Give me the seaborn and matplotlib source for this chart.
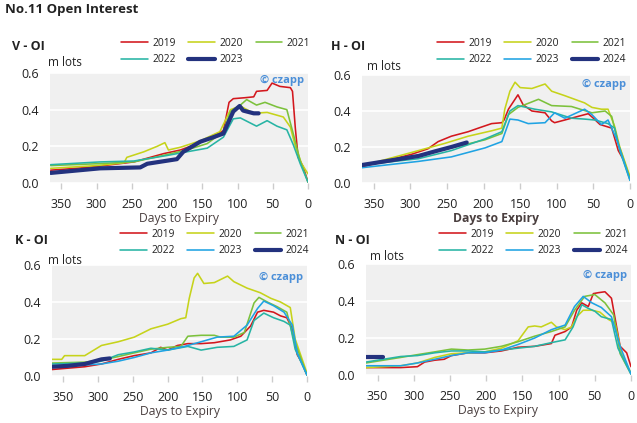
import matplotlib
matplotlib.use("Agg")
import matplotlib.pyplot as plt
import seaborn as sns
import pandas as pd

# ---------------- data (million lots vs days to expiry) ----------------
V_2019_days = [365, 330, 300, 247, 205, 181, 153, 134, 120, 112, 106, 90, 77, 73, 58, 51, 40, 25, 22, 18, 14, 7, 0]
V_2019_oi = [0.07, 0.08, 0.09, 0.115, 0.16, 0.18, 0.22, 0.26, 0.285, 0.44, 0.46, 0.465, 0.47, 0.50, 0.505, 0.545, 0.527, 0.52, 0.50, 0.30, 0.14, 0.09, 0.005]
V_2020_days = [365, 300, 261, 257, 233, 214, 203, 198, 181, 153, 125, 110, 96, 77, 58, 35, 25, 18, 9, 0]
V_2020_oi = [0.08, 0.095, 0.11, 0.14, 0.17, 0.20, 0.22, 0.18, 0.195, 0.23, 0.28, 0.40, 0.42, 0.38, 0.385, 0.36, 0.305, 0.20, 0.105, 0.05]
V_2021_days = [365, 300, 247, 200, 172, 143, 120, 110, 96, 87, 73, 61, 44, 30, 21, 11, 0]
V_2021_oi = [0.095, 0.105, 0.115, 0.155, 0.18, 0.215, 0.28, 0.39, 0.425, 0.455, 0.425, 0.44, 0.415, 0.40, 0.27, 0.12, 0.005]
V_2022_days = [365, 295, 247, 200, 172, 143, 120, 106, 96, 73, 58, 44, 30, 21, 11, 0]
V_2022_oi = [0.10, 0.115, 0.12, 0.15, 0.17, 0.19, 0.25, 0.35, 0.355, 0.31, 0.34, 0.31, 0.29, 0.21, 0.105, 0.005]
V_2023_days = [365, 295, 238, 228, 186, 177, 153, 134, 120, 106, 97, 92, 77, 70]
V_2023_oi = [0.055, 0.08, 0.085, 0.105, 0.13, 0.17, 0.225, 0.25, 0.27, 0.39, 0.42, 0.395, 0.38, 0.38]

H_2019_days = [366, 298, 276, 262, 244, 221, 207, 189, 175, 172, 166, 153, 146, 134, 116, 107, 103, 89, 71, 57, 50, 41, 25, 16, 9, 0]
H_2019_oi = [0.09, 0.16, 0.19, 0.23, 0.26, 0.285, 0.305, 0.33, 0.335, 0.35, 0.41, 0.49, 0.435, 0.40, 0.39, 0.345, 0.335, 0.35, 0.37, 0.385, 0.36, 0.325, 0.305, 0.18, 0.13, 0.025]
H_2020_days = [366, 298, 253, 221, 189, 175, 171, 164, 157, 150, 134, 116, 107, 89, 62, 52, 39, 30, 21, 14, 0]
H_2020_oi = [0.095, 0.17, 0.22, 0.26, 0.29, 0.305, 0.41, 0.51, 0.56, 0.53, 0.525, 0.55, 0.51, 0.485, 0.445, 0.42, 0.41, 0.41, 0.315, 0.20, 0.035]
H_2021_days = [366, 289, 244, 198, 175, 166, 153, 125, 107, 80, 52, 34, 25, 16, 0]
H_2021_oi = [0.10, 0.155, 0.195, 0.24, 0.275, 0.38, 0.42, 0.465, 0.43, 0.425, 0.39, 0.40, 0.37, 0.22, 0.025]
H_2022_days = [366, 289, 244, 198, 175, 164, 153, 130, 107, 80, 62, 48, 30, 21, 14, 0]
H_2022_oi = [0.10, 0.135, 0.18, 0.245, 0.285, 0.40, 0.43, 0.41, 0.395, 0.36, 0.355, 0.35, 0.33, 0.305, 0.18, 0.015]
H_2023_days = [366, 289, 244, 198, 175, 164, 153, 139, 116, 103, 89, 62, 52, 39, 30, 18, 0]
H_2023_oi = [0.085, 0.12, 0.145, 0.195, 0.23, 0.355, 0.35, 0.33, 0.335, 0.39, 0.36, 0.41, 0.38, 0.325, 0.35, 0.24, 0.015]
H_2024_days = [366, 289, 267, 244, 223]
H_2024_oi = [0.10, 0.15, 0.175, 0.20, 0.225]

K_2019_days = [366, 319, 295, 271, 248, 224, 210, 200, 186, 171, 152, 133, 110, 95, 81, 71, 62, 48, 38, 29, 21, 14, 7, 0]
K_2019_oi = [0.035, 0.05, 0.065, 0.09, 0.11, 0.125, 0.155, 0.14, 0.165, 0.175, 0.175, 0.18, 0.195, 0.215, 0.27, 0.345, 0.355, 0.345, 0.325, 0.315, 0.255, 0.115, 0.07, 0.005]
K_2020_days = [366, 352, 348, 319, 295, 271, 248, 224, 200, 181, 174, 169, 162, 157, 148, 133, 114, 105, 86, 67, 52, 38, 24, 17, 0]
K_2020_oi = [0.09, 0.09, 0.11, 0.11, 0.165, 0.185, 0.21, 0.255, 0.28, 0.31, 0.315, 0.42, 0.53, 0.555, 0.50, 0.505, 0.54, 0.51, 0.475, 0.45, 0.42, 0.40, 0.37, 0.20, 0.015]
K_2021_days = [366, 319, 295, 271, 248, 224, 200, 181, 171, 152, 133, 124, 105, 90, 76, 69, 57, 43, 29, 19, 0]
K_2021_oi = [0.07, 0.075, 0.085, 0.105, 0.125, 0.145, 0.155, 0.16, 0.215, 0.22, 0.22, 0.21, 0.21, 0.235, 0.395, 0.425, 0.40, 0.375, 0.345, 0.20, 0.005]
K_2022_days = [366, 319, 295, 271, 248, 224, 200, 171, 152, 129, 105, 86, 76, 62, 48, 33, 24, 17, 0]
K_2022_oi = [0.065, 0.07, 0.08, 0.115, 0.13, 0.15, 0.14, 0.16, 0.14, 0.155, 0.16, 0.195, 0.30, 0.34, 0.315, 0.295, 0.275, 0.145, 0.005]
K_2023_days = [366, 319, 295, 271, 248, 224, 200, 176, 152, 129, 105, 86, 71, 62, 48, 33, 21, 14, 0]
K_2023_oi = [0.055, 0.06, 0.065, 0.08, 0.10, 0.125, 0.14, 0.16, 0.185, 0.21, 0.215, 0.275, 0.365, 0.405, 0.38, 0.345, 0.275, 0.125, 0.005]
K_2024_days = [366, 343, 319, 295, 283]
K_2024_oi = [0.05, 0.055, 0.065, 0.09, 0.095]

N_2019_days = [366, 318, 295, 285, 271, 258, 248, 225, 202, 179, 156, 133, 110, 105, 91, 82, 75, 68, 59, 52, 45, 36, 27, 15, 6, 0]
N_2019_oi = [0.04, 0.04, 0.045, 0.07, 0.08, 0.085, 0.105, 0.12, 0.12, 0.13, 0.15, 0.155, 0.17, 0.215, 0.235, 0.26, 0.35, 0.39, 0.37, 0.44, 0.445, 0.45, 0.415, 0.155, 0.12, 0.045]
N_2020_days = [366, 318, 295, 271, 248, 225, 202, 179, 156, 142, 133, 124, 110, 103, 91, 82, 75, 66, 54, 43, 31, 22, 13, 0]
N_2020_oi = [0.04, 0.05, 0.065, 0.095, 0.115, 0.12, 0.125, 0.145, 0.185, 0.26, 0.265, 0.26, 0.285, 0.26, 0.245, 0.26, 0.315, 0.35, 0.35, 0.34, 0.30, 0.28, 0.115, 0.01]
N_2021_days = [366, 318, 295, 271, 248, 225, 202, 179, 156, 133, 110, 91, 78, 64, 50, 36, 24, 15, 0]
N_2021_oi = [0.065, 0.095, 0.11, 0.125, 0.14, 0.135, 0.14, 0.155, 0.18, 0.21, 0.235, 0.26, 0.35, 0.425, 0.435, 0.39, 0.325, 0.115, 0.005]
N_2022_days = [366, 318, 295, 271, 248, 225, 202, 179, 156, 133, 110, 91, 80, 68, 59, 50, 41, 27, 18, 0]
N_2022_oi = [0.07, 0.10, 0.105, 0.12, 0.13, 0.13, 0.125, 0.135, 0.145, 0.155, 0.175, 0.19, 0.26, 0.38, 0.36, 0.345, 0.315, 0.30, 0.145, 0.005]
N_2023_days = [366, 318, 295, 271, 248, 225, 202, 179, 156, 133, 110, 91, 78, 66, 54, 41, 27, 15, 0]
N_2023_oi = [0.05, 0.05, 0.065, 0.085, 0.105, 0.12, 0.12, 0.135, 0.165, 0.20, 0.245, 0.27, 0.37, 0.425, 0.39, 0.365, 0.315, 0.155, 0.005]
N_2024_days = [366, 343]
N_2024_oi = [0.095, 0.095]

x_ticks = [350, 300, 250, 200, 150, 100, 50, 0]
y_ticks = [0.0, 0.2, 0.4, 0.6]

# ---------------- styling ----------------
COLORS = {"2019": "#d3171d", "2020": "#c6d31a", "2021": "#7cc13c",
          "2022": "#27b4a4", "2023": "#1fa3e3", "2024": "#23327e"}
CURRENT_COLOR = "#23327e"

sns.set_theme(style="white")
plt.rcParams["font.family"] = ["Open Sans", "DejaVu Sans"]

W, H = 637, 423
fig = plt.figure(figsize=(W / 100, H / 100), dpi=100)


def rect(l, t, r, b):
    return [l / W, 1 - b / H, (r - l) / W, (b - t) / H]


panels = [
    dict(name="V - OI", rect=rect(50, 73, 308, 183),
         series=[("2019", V_2019_days, V_2019_oi), ("2020", V_2020_days, V_2020_oi),
                 ("2021", V_2021_days, V_2021_oi), ("2022", V_2022_days, V_2022_oi),
                 ("2023", V_2023_days, V_2023_oi)],
         title_xy=(12, 46), mlots_xy=(48, 63), leg_xy=(310, 38), xlab_bold=False, wm_y=0.93),
    dict(name="H - OI", rect=rect(362, 75, 630, 183),
         series=[("2019", H_2019_days, H_2019_oi), ("2020", H_2020_days, H_2020_oi),
                 ("2021", H_2021_days, H_2021_oi), ("2022", H_2022_days, H_2022_oi),
                 ("2023", H_2023_days, H_2023_oi), ("2024", H_2024_days, H_2024_oi)],
         title_xy=(331, 47), mlots_xy=(367, 66), leg_xy=(626, 38), xlab_bold=True, wm_y=0.91),
    dict(name="K - OI", rect=rect(52, 265, 307, 376),
         series=[("2019", K_2019_days, K_2019_oi), ("2020", K_2020_days, K_2020_oi),
                 ("2021", K_2021_days, K_2021_oi), ("2022", K_2022_days, K_2022_oi),
                 ("2023", K_2023_days, K_2023_oi), ("2024", K_2024_days, K_2024_oi)],
         title_xy=(15, 240), mlots_xy=(48, 261), leg_xy=(309, 229), xlab_bold=False, wm_y=0.885),
    dict(name="N - OI", rect=rect(366, 264, 631, 375),
         series=[("2019", N_2019_days, N_2019_oi), ("2020", N_2020_days, N_2020_oi),
                 ("2021", N_2021_days, N_2021_oi), ("2022", N_2022_days, N_2022_oi),
                 ("2023", N_2023_days, N_2023_oi), ("2024", N_2024_days, N_2024_oi)],
         title_xy=(335, 240), mlots_xy=(370, 257), leg_xy=(628, 229), xlab_bold=False, wm_y=0.9),
]

fig.text(5 / W, 1 - 10 / H, "No.11 Open Interest", fontsize=9.5, fontweight="bold",
         color="#222222", va="center", ha="left")

for p in panels:
    ax = fig.add_axes(p["rect"])
    ax.set_facecolor("#f0f0f0")
    last = p["series"][-1][0]
    for year, d, v in p["series"]:
        cur = year == last
        df = pd.DataFrame({"days": d, "oi": v})
        sns.lineplot(data=df, x="days", y="oi", ax=ax, estimator=None,
                     color=CURRENT_COLOR if cur else COLORS[year],
                     linewidth=3.0 if cur else 1.15, label=year, zorder=3 if cur else 2)
    ax.set_xlim(366, 0)
    ax.set_ylim(0, 0.6)
    ax.set_xticks(x_ticks)
    ax.set_yticks(y_ticks)
    ax.set_yticklabels([f"{t:.1f}" for t in y_ticks])
    ax.grid(axis="y", color="white", linewidth=1.2)
    ax.grid(axis="x", visible=False)
    for s in ax.spines.values():
        s.set_visible(False)
    ax.tick_params(axis="x", length=4.5, color="#cccccc", width=1, labelsize=9,
                   labelcolor="#222222", pad=6, bottom=True)
    ax.tick_params(axis="y", length=0, labelsize=9, labelcolor="#222222", pad=8)
    ax.set_xlabel("Days to Expiry", fontsize=8.7, color="#4a3f3f",
                  fontweight="bold" if p["xlab_bold"] else "normal", labelpad=1)
    ax.set_ylabel("")
    ax.text(0.985, p["wm_y"], "\u00a9 czapp", transform=ax.transAxes, ha="right", va="center",
            fontsize=8, color="#4b8fd8", fontweight="bold")

    handles, labels = ax.get_legend_handles_labels()
    order = [0, 3, 1, 4, 2, 5] if len(handles) == 6 else [0, 3, 1, 4, 2]
    ax.legend([handles[i] for i in order], [labels[i] for i in order], ncol=3,
              loc="upper right", bbox_to_anchor=(p["leg_xy"][0] / W, 1 - p["leg_xy"][1] / H),
              bbox_transform=fig.transFigure, frameon=False, fontsize=7.4,
              handlelength=2.6, handletextpad=0.4, columnspacing=1.25,
              labelspacing=0.5, borderpad=0, borderaxespad=0,
              labelcolor="#222222")

    fig.text(p["title_xy"][0] / W, 1 - p["title_xy"][1] / H, p["name"], fontsize=9,
             fontweight="bold", color="#222222", va="center", ha="left")
    fig.text(p["mlots_xy"][0] / W, 1 - p["mlots_xy"][1] / H, "m lots", fontsize=8.5,
             color="#222222", va="center", ha="left")

fig.savefig("out.png", dpi=100)
